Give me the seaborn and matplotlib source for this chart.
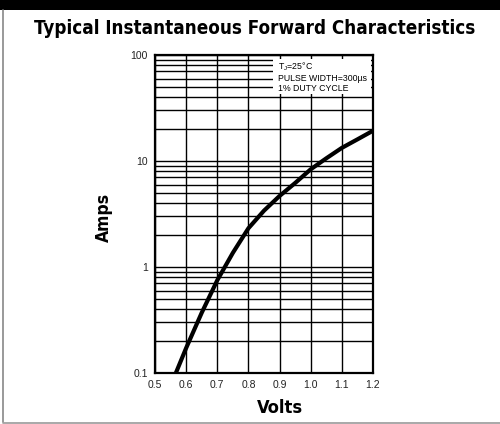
import matplotlib
matplotlib.use("Agg")
import matplotlib.pyplot as plt
from matplotlib.patches import Rectangle
from matplotlib.ticker import FixedLocator, FixedFormatter, NullFormatter
from matplotlib import font_manager as fm
import seaborn as sns
import pandas as pd

# ---- data ----
volts = [0.567, 0.60, 0.65, 0.70, 0.75, 0.80, 0.85, 0.90, 0.95, 1.00, 1.05, 1.10, 1.15, 1.20]
amps = [0.10, 0.172, 0.37, 0.75, 1.36, 2.32, 3.4, 4.68, 6.2, 8.35, 10.6, 13.3, 16.0, 19.3]
x_ticks = [0.5, 0.6, 0.7, 0.8, 0.9, 1.0, 1.1, 1.2]
x_ticklabels = ["0.5", "0.6", "0.7", "0.8", "0.9", "1.0", "1.1", "1.2"]
y_ticks = [0.1, 1, 10, 100]
y_ticklabels = ["0.1", "1", "10", "100"]
title = "Typical Instantaneous Forward Characteristics"
note_lines = ["T$_\\mathregular{J}$=25°C", "PULSE WIDTH=300µs", "1% DUTY CYCLE"]

sns.set_theme(style="white")
plt.rcParams["font.family"] = ["Liberation Sans", "DejaVu Sans"]
plt.rcParams["text.color"] = "black"
plt.rcParams["xtick.color"] = "black"
plt.rcParams["ytick.color"] = "black"

# first condensed bold face that is installed
cond = None
for f in fm.fontManager.ttflist:
    n = f.name.lower()
    if "mono" in n:
        continue
    if ("narrow" in n or "condensed" in n or f.stretch in ("condensed", "semi-condensed")) \
            and (f.weight in ("bold", 700) or (isinstance(f.weight, int) and f.weight >= 600)):
        cond = f
        break
if cond is not None:
    bold_kw = dict(fontproperties=fm.FontProperties(fname=cond.fname))
else:
    bold_kw = dict(family=["Liberation Sans", "DejaVu Sans"], fontweight="bold")

df = pd.DataFrame({"Volts": volts, "Amps": amps})

fig = plt.figure(figsize=(5.0, 4.24), dpi=100)
fig.patch.set_facecolor("white")

fig.patches.append(Rectangle((0, 1 - 10 / 424), 1, 10 / 424, transform=fig.transFigure,
                             facecolor="black", edgecolor="none", zorder=0))
fig.lines.append(plt.Line2D([3 / 500, 3 / 500], [0.004, 1 - 10 / 424], transform=fig.transFigure,
                            color="#888888", lw=1.2))
fig.lines.append(plt.Line2D([3 / 500, 1], [1.5 / 424, 1.5 / 424], transform=fig.transFigure,
                            color="#999999", lw=1.2))

ax = fig.add_axes([155 / 500, 51 / 424, 218 / 500, 318 / 424])
ax.set_yscale("log")
ax.set_xlim(0.5, 1.2)
ax.set_ylim(0.1, 100)

sns.lineplot(data=df, x="Volts", y="Amps", ax=ax, color="black", lw=3.0, zorder=4)

ax.xaxis.set_major_locator(FixedLocator(x_ticks))
ax.xaxis.set_major_formatter(FixedFormatter(x_ticklabels))
ax.yaxis.set_major_locator(FixedLocator(y_ticks))
ax.yaxis.set_major_formatter(FixedFormatter(y_ticklabels))
minor = [m * 10.0 ** e for e in range(-1, 2) for m in range(2, 10)]
ax.yaxis.set_minor_locator(FixedLocator(minor))
ax.yaxis.set_minor_formatter(NullFormatter())

ax.set_axisbelow(True)
ax.grid(True, which="major", axis="both", color="black", lw=1.0)
ax.grid(True, which="minor", axis="y", color="black", lw=1.0)
ax.tick_params(which="both", length=0)
ax.tick_params(axis="x", labelsize=7.5, pad=5, labelcolor="#222222")
ax.tick_params(axis="y", labelsize=7.5, pad=5, labelcolor="#222222")
for s in ax.spines.values():
    s.set_visible(True)
    s.set_color("black")
    s.set_linewidth(1.6)
ax.set_xlabel("")
ax.set_ylabel("")

ax.add_patch(Rectangle((0.88, 43), 1.192 - 0.88, 92 - 43, facecolor="white",
                       edgecolor="none", zorder=2))
for txt, yv in zip(note_lines, [77.0, 59.4, 47.8]):
    ax.text(0.8935, yv, txt, fontsize=6.3, va="center", ha="left", zorder=3, color="black")

t_title = fig.text(255 / 500, 1 - 29 / 424, title, ha="center", va="center", color="black", **bold_kw)
t_amps = fig.text(104 / 500, 1 - 217 / 424, "Amps", ha="center", va="center", rotation=90,
                  color="black", **bold_kw)
t_volts = fig.text(280 / 500, 1 - 408 / 424, "Volts", ha="center", va="center", color="black", **bold_kw)

# size the bold texts to the widths seen in the reference
fig.canvas.draw()
r = fig.canvas.get_renderer()
for t, target, horiz in [(t_title, 440, True), (t_amps, 49, False), (t_volts, 46, True)]:
    t.set_fontsize(20)
    bb = t.get_window_extent(r)
    w = bb.width if horiz else bb.height
    t.set_fontsize(20 * target / w)

fig.savefig("out.png", dpi=100)
